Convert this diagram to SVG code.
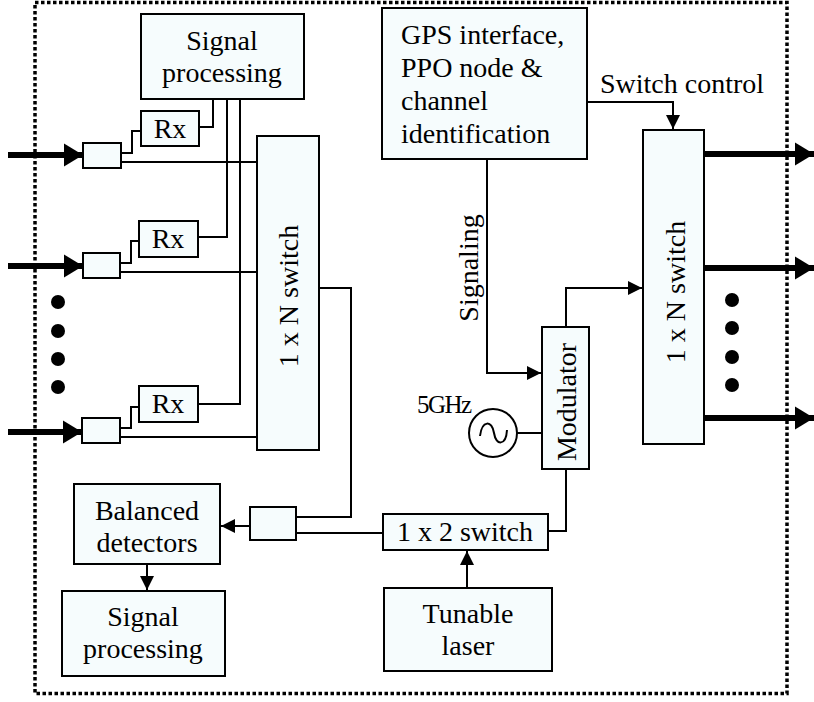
<svg xmlns="http://www.w3.org/2000/svg" width="814" height="702" viewBox="0 0 814 702">
<defs>
<style>
.box{fill:#f6fcfd;stroke:#000;stroke-width:2}
.ln{fill:none;stroke:#000;stroke-width:2}
.thick{fill:none;stroke:#000;stroke-width:6}
.t{font-family:"Liberation Serif","Times New Roman",serif;font-size:28px;fill:#000}
.c{text-anchor:middle}
.dot{fill:#000}
</style>
<marker id="ah" markerUnits="userSpaceOnUse" markerWidth="15" markerHeight="16" viewBox="0 0 15 16" refX="14" refY="8" orient="auto">
<path d="M0,1 L14,8 L0,15 Z" fill="#000"/>
</marker>
<marker id="big" markerUnits="userSpaceOnUse" markerWidth="20" markerHeight="26" viewBox="0 0 20 26" refX="19" refY="13" orient="auto">
<path d="M0,1.5 L19,13 L0,24.5 Z" fill="#000"/>
</marker>
</defs>
<rect x="0" y="0" width="814" height="702" fill="#fff"/>
<rect x="35" y="2.5" width="752" height="691" fill="none" stroke="#000" stroke-width="3.5" stroke-dasharray="3.5 2.5"/>

<g id="connectors">
<line class="thick" x1="8" y1="155" x2="83" y2="155" marker-end="url(#big)"/>
<line class="thick" x1="8" y1="266" x2="83" y2="266" marker-end="url(#big)"/>
<line class="thick" x1="8" y1="432" x2="82" y2="432" marker-end="url(#big)"/>
<path class="ln" d="M121,153 H132 V131 H141"/>
<path class="ln" d="M120,263 H131 V241 H139"/>
<path class="ln" d="M120,428 H131 V407 H139"/>
<path class="ln" d="M121,162 H257"/>
<path class="ln" d="M120,272 H257"/>
<path class="ln" d="M120,437 H257"/>
<path class="ln" d="M199,127 H213 V99"/>
<path class="ln" d="M198,237 H227 V99"/>
<path class="ln" d="M198,404 H240 V99"/>
<path class="ln" d="M319,288 H351 V517 H296"/>
<path class="ln" d="M296,533 H383"/>
<line class="ln" x1="250" y1="526" x2="221" y2="526" marker-end="url(#ah)"/>
<line class="ln" x1="147" y1="564" x2="147" y2="590" marker-end="url(#ah)"/>
<path class="ln" d="M587,102 H673 V129" marker-end="url(#ah)"/>
<path class="ln" d="M487,159 V373 H541" marker-end="url(#ah)"/>
<path class="ln" d="M566,327 V288 H642" marker-end="url(#ah)"/>
<path class="ln" d="M517,433 H545"/>
<path class="ln" d="M566,469 V531 H548"/>
<line class="ln" x1="467" y1="588" x2="467" y2="551" marker-end="url(#ah)"/>
<line class="thick" x1="704" y1="154" x2="814" y2="154" marker-end="url(#big)"/>
<line class="thick" x1="704" y1="268" x2="814" y2="268" marker-end="url(#big)"/>
<line class="thick" x1="704" y1="418" x2="814" y2="418" marker-end="url(#big)"/>
<text class="t" x="600" y="93">Switch control</text>
<text class="t c" transform="translate(468,268) rotate(-90)" dy="0.35em">Signaling</text>
</g>

<g id="dots-left">
<circle class="dot" cx="58" cy="302" r="7"/>
<circle class="dot" cx="58" cy="331" r="7"/>
<circle class="dot" cx="58" cy="359" r="7"/>
<circle class="dot" cx="58" cy="387" r="7"/>
</g>
<g id="dots-right">
<circle class="dot" cx="732" cy="300" r="7"/>
<circle class="dot" cx="732" cy="328" r="7"/>
<circle class="dot" cx="732" cy="357" r="7"/>
<circle class="dot" cx="732" cy="385" r="7"/>
</g>

<g id="sigproc1">
<rect class="box" x="141" y="14" width="163" height="85"/>
<text class="t c" x="222" y="50">Signal</text>
<text class="t c" x="222" y="82">processing</text>
</g>
<g id="rx1"><rect class="box" x="141" y="111" width="58" height="35"/><text class="t c" x="170" y="138">Rx</text></g>
<g id="rx2"><rect class="box" x="139" y="221" width="59" height="36"/><text class="t c" x="168" y="248">Rx</text></g>
<g id="rx3"><rect class="box" x="139" y="386" width="59" height="36"/><text class="t c" x="168" y="413">Rx</text></g>
<g id="coupler1"><rect class="box" x="83" y="143" width="38" height="25"/></g>
<g id="coupler2"><rect class="box" x="83" y="253" width="37" height="25"/></g>
<g id="coupler3"><rect class="box" x="82" y="418" width="38" height="25"/></g>
<g id="switchN-left">
<rect class="box" x="257" y="136" width="62" height="314"/>
<text class="t c" transform="translate(288,296) rotate(-90)" dy="0.35em">1 x N switch</text>
</g>
<g id="coupler4"><rect class="box" x="250" y="507" width="46" height="33"/></g>
<g id="balanced">
<rect class="box" x="74" y="484" width="146" height="80"/>
<text class="t c" x="147" y="520">Balanced</text>
<text class="t c" x="147" y="552">detectors</text>
</g>
<g id="sigproc2">
<rect class="box" x="62" y="591" width="163" height="85"/>
<text class="t c" x="143" y="626">Signal</text>
<text class="t c" x="143" y="658">processing</text>
</g>
<g id="gps">
<rect class="box" x="382" y="8" width="205" height="151"/>
<text class="t" x="401" y="44">GPS interface,</text>
<text class="t" x="401" y="77">PPO node &amp;</text>
<text class="t" x="401" y="110">channel</text>
<text class="t" x="401" y="143">identification</text>
</g>
<g id="switchN-right">
<rect class="box" x="643" y="130" width="61" height="314"/>
<text class="t c" transform="translate(675,292) rotate(-90)" dy="0.35em">1 x N switch</text>
</g>
<g id="modulator">
<rect class="box" x="542" y="327" width="47" height="142"/>
<text class="t c" transform="translate(566,402) rotate(-90)" dy="0.35em">Modulator</text>
</g>
<g id="osc">
<circle cx="493" cy="433" r="24" fill="#fff" stroke="#000" stroke-width="2"/>
<path class="ln" d="M480,436 C482,420 492,420 494,433 C496,446 506,446 507,430"/>
<text class="t" x="417" y="413" style="font-size:25px;letter-spacing:-1.5px">5GHz</text>
</g>
<g id="switch12">
<rect class="box" x="383" y="514" width="165" height="36"/>
<text class="t c" x="465" y="541">1 x 2 switch</text>
</g>
<g id="laser">
<rect class="box" x="384" y="588" width="168" height="83"/>
<text class="t c" x="468" y="623">Tunable</text>
<text class="t c" x="468" y="655">laser</text>
</g>
</svg>
